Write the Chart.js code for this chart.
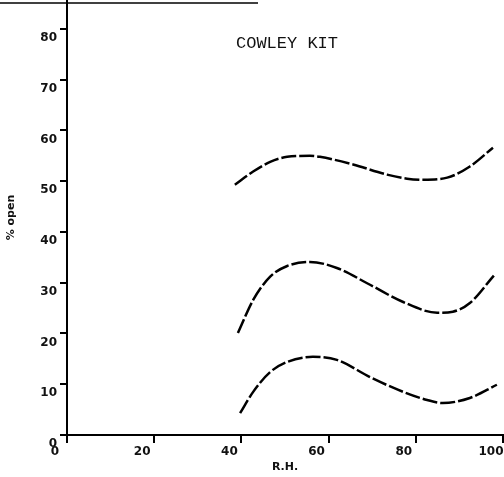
<!DOCTYPE html>
<html>
<head>
<meta charset="utf-8">
<script src="https://cdn.jsdelivr.net/npm/chart.js@4/dist/chart.umd.min.js"></script>
<style>
  html, body { margin: 0; padding: 0; background: #fff; }
  #wrap { width: 504px; height: 477px; }
</style>
</head>
<body>
<div id="wrap"><canvas id="graph" width="504" height="477"></canvas></div>
<script>
// % open vs relative humidity, three curves
const rhTop   = [38.5, 42.7, 46.6, 50.5, 55.7, 58.0, 65.6, 73.4, 78.0, 81.7, 87.2, 92.4, 97.7];
const openTop = [49.3, 51.9, 53.8, 54.8, 55.0, 54.8, 53.3, 51.3, 50.5, 50.3, 50.7, 52.9, 56.6];

const rhMid   = [39.2, 42.7, 46.6, 50.5, 55.7, 61.9, 69.5, 77.1, 84.9, 88.5, 92.4, 97.9];
const openMid = [20.1, 26.6, 31.2, 33.3, 34.1, 32.9, 29.6, 26.2, 24.1, 24.3, 26.0, 31.4];

const rhLow   = [39.7, 42.7, 46.6, 50.5, 56.4, 61.9, 69.5, 77.1, 82.6, 86.2, 92.4, 98.6];
const openLow = [4.3, 8.5, 12.4, 14.4, 15.4, 14.8, 11.4, 8.5, 6.9, 6.3, 7.3, 9.9];

const titleText = 'COWLEY KIT';
const xTitle = 'R.H.';
const yTitle = '% open';

function pts(xs, ys) {
    return xs.map((x, i) => ({ x: x, y: ys[i] }));
}

function curve(xs, ys) {
    return {
        data: pts(xs, ys),
        borderColor: '#000',
        borderWidth: 2.5,
        borderDash: [15, 3],
        pointRadius: 0,
        fill: false,
        cubicInterpolationMode: 'monotone'
    };
}

const tickFont = { family: 'DejaVu Sans', size: 12, weight: 'bold' };
const axisTitleFont = { family: 'DejaVu Sans', size: 11, weight: 'bold' };

// no extra room for half-labels at the axis ends
function noEndPadding(scale) {
    scale.paddingTop = 0;
    scale.paddingBottom = 0;
    scale.paddingLeft = 0;
    scale.paddingRight = 0;
}

// heading text and the ruled line across the top
const extras = {
    id: 'extras',
    afterDraw(chart) {
        const ctx = chart.ctx;
        ctx.save();
        ctx.strokeStyle = '#000';
        ctx.lineWidth = 1.5;
        ctx.beginPath();
        ctx.moveTo(0, 3);
        ctx.lineTo(258, 3);
        ctx.stroke();
        ctx.fillStyle = '#111';
        ctx.font = '17px "Liberation Mono"';
        ctx.textBaseline = 'alphabetic';
        ctx.fillText(titleText, 236, 48);
        ctx.restore();
    }
};

const config = {
    type: 'line',
    data: {
        datasets: [curve(rhTop, openTop), curve(rhMid, openMid), curve(rhLow, openLow)]
    },
    options: {
        responsive: false,
        animation: false,
        layout: { padding: { top: 0, right: 1, left: 0, bottom: 0 } },
        plugins: { legend: { display: false }, tooltip: { enabled: false } },
        scales: {
            x: {
                type: 'linear',
                min: 0,
                max: 100,
                afterFit(scale) { scale.height = 42; noEndPadding(scale); },
                border: { display: true, color: '#000', width: 2 },
                grid: { drawOnChartArea: false, drawTicks: true, tickLength: 8, color: '#000', lineWidth: 2 },
                ticks: { stepSize: 20, color: '#111', font: tickFont, labelOffset: -12, padding: 2, maxRotation: 0 },
                title: { display: true, text: xTitle, color: '#111', font: axisTitleFont, padding: { top: 0, bottom: 3 } }
            },
            y: {
                type: 'linear',
                min: 0,
                max: 85.7,
                afterFit(scale) { scale.width = 67; noEndPadding(scale); },
                // only the round tens get a tick
                afterBuildTicks(scale) {
                    scale.ticks = scale.ticks.filter(t => t.value % 10 === 0);
                },
                border: { display: true, color: '#000', width: 2 },
                grid: { drawOnChartArea: false, drawTicks: true, tickLength: 7, color: '#000', lineWidth: 2 },
                ticks: { stepSize: 10, color: '#111', font: tickFont, labelOffset: 9, padding: 3 },
                title: { display: true, text: yTitle, color: '#111', font: axisTitleFont, padding: { top: 5, bottom: 0 } }
            }
        }
    },
    plugins: [extras]
};

new Chart(document.getElementById('graph'), config);
</script>
</body>
</html>
